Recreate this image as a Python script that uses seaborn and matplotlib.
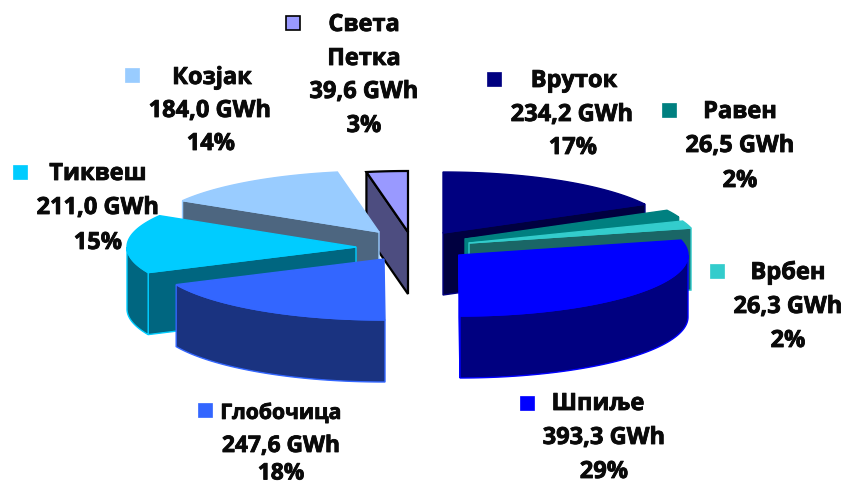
import numpy as np
import matplotlib
matplotlib.use("Agg")
import matplotlib.pyplot as plt
import matplotlib.patheffects as pe
from matplotlib.patches import Rectangle
import seaborn as sns

names = ["Вруток", "Равен", "Врбен", "Шпиље", "Глобочица", "Тиквеш", "Козјак", "Света Петка"]
energy = [234.2, 26.5, 26.3, 393.3, 247.6, 211.0, 184.0, 39.6]
percent = [17, 2, 2, 29, 18, 15, 14, 3]
top_colors = ["#000080", "#008080", "#33CCCC", "#0000FF", "#3366FF", "#00CCFF", "#99CCFF", "#9999FF"]
edge_colors = ["#000080", "#008080", "#33CCCC", "#0000FF", "#3366FF", "#00CCFF", "#99CCFF", "#000000"]
side_shade = [0.5, 1.0, 0.5, 0.5, 0.5, 0.5, 0.5, 0.5]

# layout (pixels)
RX, RY, DEPTH = 229, 61, 62
centers = [(443, 233), (465, 239), (469, 243), (459, 255), (384, 259), (356, 247), (379, 232), (408, 232)]
draw_order = [7, 6, 5, 0, 1, 2, 4, 3]
label_lines = [
    [("Вруток", 574, 81, 17), ("234,2 GWh", 572, 115, 17), ("17%", 573, 148, 17)],
    [("Равен", 740, 112, 17), ("26,5 GWh", 740, 146, 17), ("2%", 740, 181, 17)],
    [("Врбен", 788, 273, 17), ("26,3 GWh", 788, 307, 17), ("2%", 788, 341, 17)],
    [("Шпиље", 598, 404, 17), ("393,3 GWh", 604, 438, 17), ("29%", 604, 472, 17)],
    [("Глобочица", 281, 413, 15.2), ("247,6 GWh", 281, 446, 16.4), ("18%", 281, 473.5, 16.4)],
    [("Тиквеш", 98, 174, 17), ("211,0 GWh", 98, 208, 17), ("15%", 98, 243, 17)],
    [("Козјак", 212, 78, 17), ("184,0 GWh", 210, 111, 17), ("14%", 211, 144, 17)],
    [("Света", 364, 25, 17), ("Петка", 364, 59, 17), ("39,6 GWh", 364, 92, 17), ("3%", 364, 126, 17)],
]
markers = [(494, 79), (669, 110), (717, 271), (527, 403), (205, 410), (20, 172), (132, 75), (293, 23)]

sns.set_theme(style="white")
plt.rcParams["font.family"] = ["Open Sans", "DejaVu Sans"]
palette = sns.color_palette(top_colors)

fig = plt.figure(figsize=(8.44, 4.84), dpi=100)
ax = fig.add_axes([0, 0, 1, 1])
ax.set_xlim(0, 844)
ax.set_ylim(484, 0)
ax.axis("off")

fractions = np.array(energy) / np.sum(energy)
bounds = np.concatenate([[0], np.cumsum(fractions)]) * 2 * np.pi


def point(cx, cy, angle):
    return cx + RX * np.sin(angle), cy - RY * np.cos(angle)


for i in draw_order:
    cx, cy = centers[i]
    start, end = bounds[i], bounds[i + 1]
    a = np.linspace(start, end, 80)
    arc_x, arc_y = point(cx, cy, a)
    col = np.array(palette[i])
    side = tuple(col * side_shade[i])
    edge = edge_colors[i]
    lw = 1.6 if i == 7 else 1.0

    # radial cut faces: only those turned towards the viewer
    for angle, visible in ((start, np.sin(start) < -1e-6), (end, np.sin(end) > 1e-6)):
        if visible:
            px, py = point(cx, cy, angle)
            ax.fill([cx, px, px, cx], [cy, py, py + DEPTH, cy + DEPTH],
                    facecolor=side, edgecolor=edge, linewidth=lw, joinstyle="miter")
    # outer rim: only the front half of the ellipse
    lo, hi = max(start, np.pi / 2), min(end, 3 * np.pi / 2)
    if hi > lo:
        r = np.linspace(lo, hi, 80)
        rx, ry = point(cx, cy, r)
        ax.fill(np.concatenate([rx, rx[::-1]]), np.concatenate([ry, ry[::-1] + DEPTH]),
                facecolor=side, edgecolor=edge, linewidth=lw, joinstyle="miter")
    # top face
    ax.fill(np.concatenate([[cx], arc_x]), np.concatenate([[cy], arc_y]),
            facecolor=palette[i], edgecolor=edge, linewidth=lw, joinstyle="miter")

    for text, x, y, size in label_lines[i]:
        ax.text(x, y, text, ha="center", va="center", fontsize=size,
                fontweight="bold", color="#0a0a0a", zorder=10,
                path_effects=[pe.withStroke(linewidth=0.6, foreground="#0a0a0a")])
    mx, my = markers[i]
    ax.add_patch(Rectangle((mx - 7, my - 7), 14, 14, facecolor=palette[i],
                           edgecolor="black" if i == 7 else palette[i],
                           linewidth=1.2 if i == 7 else 0.5, zorder=10))

fig.savefig("out.png", dpi=100)
